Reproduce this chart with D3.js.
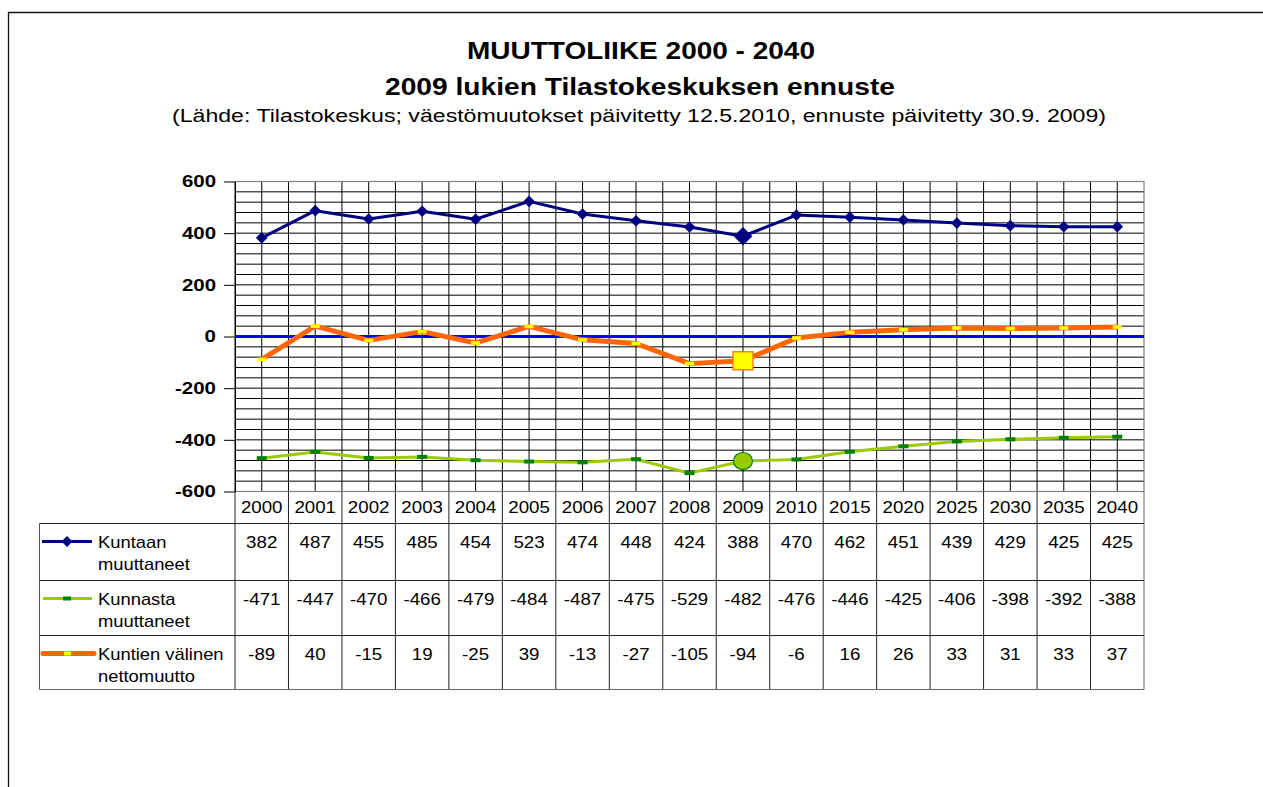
<!DOCTYPE html>
<html lang="fi">
<head>
<meta charset="UTF-8">
<title>Muuttoliike 2000 - 2040</title>
<script src="https://d3js.org/d3.v7.min.js"></script>
<style>
  body { margin: 0; background: #fff; overflow: hidden; }
  svg { display: block; }
  text { font-family: "Liberation Sans", Arial, sans-serif; fill: #000; }
</style>
</head>
<body>
<script>
var years = ["2000","2001","2002","2003","2004","2005","2006","2007","2008","2009","2010","2015","2020","2025","2030","2035","2040"];
var kuntaan = [382, 487, 455, 485, 454, 523, 474, 448, 424, 388, 470, 462, 451, 439, 429, 425, 425];
var kunnasta = [-471, -447, -470, -466, -479, -484, -487, -475, -529, -482, -476, -446, -425, -406, -398, -392, -388];
var netto = [-89, 40, -15, 19, -25, 39, -13, -27, -105, -94, -6, 16, 26, 33, 31, 33, 37];
var yTicks = [-600, -400, -200, 0, 200, 400, 600];
var seriesLabels = [["Kuntaan", "muuttaneet"], ["Kunnasta", "muuttaneet"], ["Kuntien välinen", "nettomuutto"]];
var highlightYear = "2009";

var W = 1263, H = 787;
var plot = { left: 235, right: 1144, top: 181.5, bottom: 491.5 };
var rowLines = [523.5, 580.5, 635.5, 689.5];
var tableLeft = 39.5;

// the original text was stretched horizontally, so widen it a bit
function stretch(sel, k) {
  sel.each(function () {
    var l = this.getComputedTextLength();
    this.setAttribute("textLength", l * k);
    this.setAttribute("lengthAdjust", "spacingAndGlyphs");
  });
}
function fit(sel, w) {
  sel.attr("textLength", w).attr("lengthAdjust", "spacingAndGlyphs");
}

var svg = d3.select("body").append("svg")
  .attr("width", W)
  .attr("height", H);

// outer frame: only top and left edges fall inside the page
svg.append("path")
  .attr("d", "M8.5," + H + "V12.5H" + W)
  .attr("fill", "none")
  .attr("stroke", "#111")
  .attr("stroke-width", 1.3);

// titles
svg.append("text").attr("x", 641).attr("y", 58.5)
  .attr("text-anchor", "middle").style("font-size", "24px").style("font-weight", "bold")
  .text("MUUTTOLIIKE 2000 - 2040").call(fit, 348);
svg.append("text").attr("x", 640).attr("y", 95)
  .attr("text-anchor", "middle").style("font-size", "23px").style("font-weight", "bold")
  .text("2009 lukien Tilastokeskuksen ennuste").call(fit, 510);
svg.append("text").attr("x", 639).attr("y", 121.5)
  .attr("text-anchor", "middle").style("font-size", "17.5px")
  .text("(Lähde: Tilastokeskus; väestömuutokset päivitetty 12.5.2010, ennuste päivitetty 30.9. 2009)")
  .call(fit, 934);

var x = d3.scaleBand().domain(years).range([plot.left, plot.right]).padding(0);
var y = d3.scaleLinear().domain([-600, 600]).range([plot.bottom, plot.top]);
var cx = function (d, i) { return x(years[i]) + x.bandwidth() / 2; };

// grid
var grid = svg.append("g");
grid.selectAll("line.h")
  .data(d3.range(-600, 601, 40))
  .enter().append("line")
  .attr("x1", plot.left).attr("x2", plot.right)
  .attr("y1", function (d) { return y(d); }).attr("y2", function (d) { return y(d); })
  .attr("stroke", "#000").attr("stroke-width", 1);

var vx = [];
years.forEach(function (yr) {
  vx.push(x(yr));
  vx.push(x(yr) + x.bandwidth() / 2);
});
grid.selectAll("line.v")
  .data(vx)
  .enter().append("line")
  .attr("x1", function (d) { return d; }).attr("x2", function (d) { return d; })
  .attr("y1", plot.top).attr("y2", plot.bottom)
  .attr("stroke", "#000").attr("stroke-width", 1);

svg.append("rect")
  .attr("x", plot.left).attr("y", plot.top)
  .attr("width", plot.right - plot.left).attr("height", plot.bottom - plot.top)
  .attr("fill", "none").attr("stroke", "#808080").attr("stroke-width", 1.2);

// y axis
var yAxis = svg.append("g")
  .attr("transform", "translate(" + plot.left + ",0)")
  .call(d3.axisLeft(y).tickValues(yTicks).tickSize(11).tickSizeOuter(0).tickPadding(8)
    .tickFormat(function (d) { return String(d); }));
yAxis.select(".domain").attr("stroke", "#000");
yAxis.selectAll(".tick line").attr("stroke", "#000");
yAxis.selectAll(".tick text")
  .style("font-size", "16.5px").style("font-weight", "bold")
  .attr("font-family", null)
  .attr("fill", "#000")
  .call(stretch, 1.24);

// zero line
svg.append("line")
  .attr("x1", plot.left).attr("x2", plot.right)
  .attr("y1", y(0)).attr("y2", y(0))
  .attr("stroke", "#0000FF").attr("stroke-width", 3);

var line = d3.line().x(cx).y(function (d) { return y(d); });

// Kunnasta muuttaneet
svg.append("path").datum(kunnasta)
  .attr("d", line).attr("fill", "none")
  .attr("stroke", "#99CC00").attr("stroke-width", 3).attr("stroke-linejoin", "round");
svg.selectAll("rect.m2").data(kunnasta).enter().append("rect")
  .attr("x", function (d, i) { return cx(d, i) - 5; })
  .attr("y", function (d) { return y(d) - 2; })
  .attr("width", 10).attr("height", 4)
  .attr("fill", "#008000")
  .style("display", function (d, i) { return years[i] === highlightYear ? "none" : null; });

// Kuntien välinen nettomuutto
svg.append("path").datum(netto)
  .attr("d", line).attr("fill", "none")
  .attr("stroke", "#FF6600").attr("stroke-width", 5).attr("stroke-linejoin", "round");
svg.selectAll("rect.m3").data(netto).enter().append("rect")
  .attr("x", function (d, i) { return cx(d, i) - 4.5; })
  .attr("y", function (d) { return y(d) - 1.8; })
  .attr("width", 9).attr("height", 3.6)
  .attr("fill", "#FFFF00")
  .style("display", function (d, i) { return years[i] === highlightYear ? "none" : null; });

// Kuntaan muuttaneet
svg.append("path").datum(kuntaan)
  .attr("d", line).attr("fill", "none")
  .attr("stroke", "#000080").attr("stroke-width", 3).attr("stroke-linejoin", "round");
var square = d3.symbol().type(d3.symbolSquare);
svg.selectAll("path.m1").data(kuntaan).enter().append("path")
  .attr("transform", function (d, i) {
    return "translate(" + cx(d, i) + "," + y(d) + ") rotate(45)";
  })
  .attr("d", function (d, i) { return square.size(years[i] === highlightYear ? 175 : 68)(); })
  .attr("fill", "#000080");

// highlighted 2009 markers
var hi = years.indexOf(highlightYear);
var hx = x(highlightYear) + x.bandwidth() / 2;
svg.append("ellipse")
  .attr("cx", hx).attr("cy", y(kunnasta[hi]))
  .attr("rx", 9.5).attr("ry", 8.5)
  .attr("fill", "#99CC00").attr("stroke", "#008000").attr("stroke-width", 1.2);
svg.append("rect")
  .attr("x", hx - 10).attr("y", y(netto[hi]) - 9)
  .attr("width", 20).attr("height", 18)
  .attr("fill", "#FFFF00").attr("stroke", "#FF6600").attr("stroke-width", 1.2);

// data table
var table = svg.append("g");
var tcol = "#222";
years.forEach(function (yr) {
  table.append("line")
    .attr("x1", x(yr)).attr("x2", x(yr))
    .attr("y1", plot.bottom).attr("y2", rowLines[3])
    .attr("stroke", tcol);
});
table.append("line")
  .attr("x1", plot.right).attr("x2", plot.right)
  .attr("y1", plot.bottom).attr("y2", rowLines[3])
  .attr("stroke", "#666");
table.append("line")
  .attr("x1", tableLeft).attr("x2", tableLeft)
  .attr("y1", rowLines[0]).attr("y2", rowLines[3])
  .attr("stroke", "#555");
rowLines.forEach(function (ly, i) {
  table.append("line")
    .attr("x1", tableLeft).attr("x2", plot.right)
    .attr("y1", ly).attr("y2", ly)
    .attr("stroke", i === 3 ? "#666" : tcol);
});

table.selectAll("text.hdr").data(years).enter().append("text")
  .attr("x", function (d) { return x(d) + x.bandwidth() / 2; })
  .attr("y", 513)
  .attr("text-anchor", "middle")
  .style("font-size", "17px")
  .text(function (d) { return d; })
  .call(stretch, 1.1);

var rows = [kuntaan, kunnasta, netto];
rows.forEach(function (vals, r) {
  table.selectAll("text.v" + r).data(vals).enter().append("text")
    .attr("x", cx)
    .attr("y", rowLines[r] + 24)
    .attr("text-anchor", "middle")
    .style("font-size", "17px")
    .text(function (d) { return String(d); })
    .call(stretch, 1.1);

  var lbl = table.append("text").attr("x", 98).attr("y", rowLines[r] + 24).style("font-size", "17px");
  lbl.append("tspan").attr("x", 98).text(seriesLabels[r][0]);
  lbl.append("tspan").attr("x", 98).attr("dy", 22).text(seriesLabels[r][1]);
  lbl.selectAll("tspan").call(stretch, 1.08);
});

// legend keys in the table
var ky = rowLines.slice(0, 3).map(function (ly) { return ly + 18; });
table.append("line").attr("x1", 42).attr("x2", 92).attr("y1", ky[0]).attr("y2", ky[0])
  .attr("stroke", "#000080").attr("stroke-width", 3);
table.append("path")
  .attr("transform", "translate(67," + ky[0] + ") rotate(45)")
  .attr("d", square.size(60)())
  .attr("fill", "#000080");
table.append("line").attr("x1", 43).attr("x2", 92).attr("y1", ky[1]).attr("y2", ky[1])
  .attr("stroke", "#99CC00").attr("stroke-width", 3);
table.append("rect").attr("x", 63).attr("y", ky[1] - 2).attr("width", 8).attr("height", 4)
  .attr("fill", "#008000");
table.append("line").attr("x1", 43).attr("x2", 94).attr("y1", ky[2]).attr("y2", ky[2])
  .attr("stroke", "#FF6600").attr("stroke-width", 5).attr("stroke-linecap", "round");
table.append("rect").attr("x", 64).attr("y", ky[2] - 2).attr("width", 7).attr("height", 4)
  .attr("fill", "#FFFF00");
</script>
</body>
</html>
